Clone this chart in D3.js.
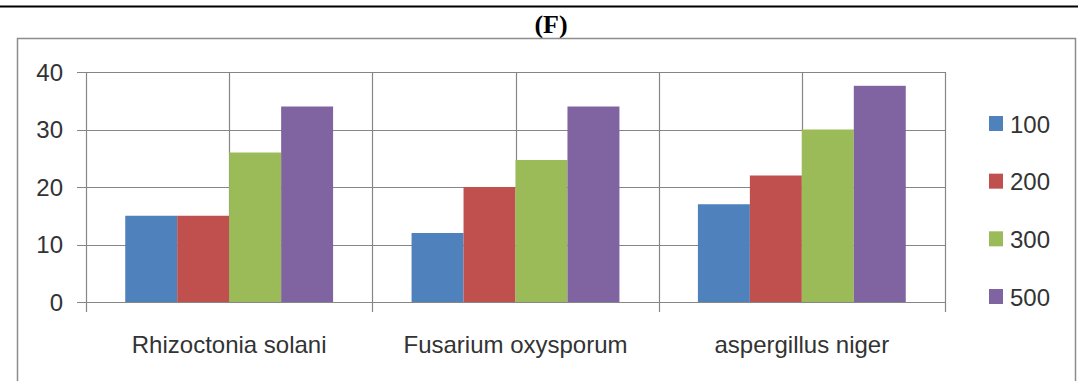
<!DOCTYPE html>
<html>
<head>
<meta charset="utf-8">
<script src="https://cdn.jsdelivr.net/npm/d3@7"></script>
<style>
  html, body { margin: 0; padding: 0; background: #fff; }
  svg { display: block; }
</style>
</head>
<body>
<svg id="chart" width="1078" height="381"></svg>
<script>
const title = "(F)";
const categories = ["Rhizoctonia solani", "Fusarium oxysporum", "aspergillus niger"];
const seriesNames = ["100", "200", "300", "500"];
const values100 = [15, 12, 17];
const values200 = [15, 20, 22];
const values300 = [26, 24.7, 30];
const values500 = [34, 34, 37.6];
const seriesValues = [values100, values200, values300, values500];
const yTicks = [0, 10, 20, 30, 40];
const colors = ["#4F81BD", "#C0504D", "#9BBB59", "#8064A2"];

const svg = d3.select("#chart");
const W = 1078, H = 381;
const plot = { left: 86, right: 945, top: 72, bottom: 302 };
const gridColor = "#868686";
const textColor = "#333333";

// top black rule
svg.append("line").attr("x1", 0).attr("x2", W).attr("y1", 6.5).attr("y2", 6.5)
  .attr("stroke", "#000").attr("stroke-width", 2);

// title
svg.append("text").attr("x", 551).attr("y", 33).attr("text-anchor", "middle")
  .attr("font-family", "Liberation Serif, Times New Roman, serif")
  .attr("font-weight", "bold").attr("font-size", 26).attr("fill", "#000")
  .text(title);

// chart frame
svg.append("path")
  .attr("d", `M17.5,${H} L17.5,38.5 L1075.5,38.5 L1075.5,${H}`)
  .attr("fill", "none").attr("stroke", "#8c8c8c").attr("stroke-width", 1.5);

const x0 = d3.scaleBand().domain(categories).range([plot.left, plot.right]).paddingInner(0).paddingOuter(0);
const x1 = d3.scaleBand().domain(seriesNames).range([0, x0.bandwidth()]).paddingInner(0).paddingOuter(0.755);
const y = d3.scaleLinear().domain([0, 40]).range([plot.bottom, plot.top]);

// horizontal gridlines
svg.append("g").selectAll("line").data(yTicks).join("line")
  .attr("x1", plot.left - 9).attr("x2", plot.right)
  .attr("y1", d => Math.round(y(d)) + 0.5).attr("y2", d => Math.round(y(d)) + 0.5)
  .attr("stroke", gridColor).attr("stroke-width", 1.2);

// vertical gridlines at category boundaries and centers
const boundaries = categories.map(c => x0(c)).concat([plot.right]);
const centers = categories.map(c => x0(c) + x0.bandwidth() / 2);
svg.append("g").selectAll("line").data(centers).join("line")
  .attr("x1", d => Math.round(d) + 0.5).attr("x2", d => Math.round(d) + 0.5)
  .attr("y1", plot.top).attr("y2", plot.bottom)
  .attr("stroke", gridColor).attr("stroke-width", 1.2);
svg.append("g").selectAll("line").data(boundaries).join("line")
  .attr("x1", d => Math.round(d) + 0.5).attr("x2", d => Math.round(d) + 0.5)
  .attr("y1", plot.top).attr("y2", plot.bottom + 10)
  .attr("stroke", gridColor).attr("stroke-width", 1.2);

// bars
const data = [];
categories.forEach((c, i) => seriesNames.forEach((s, j) => data.push({ c, s, v: seriesValues[j][i], j })));
svg.append("g").selectAll("rect").data(data).join("rect")
  .attr("x", d => x0(d.c) + x1(d.s))
  .attr("width", x1.bandwidth())
  .attr("y", d => y(d.v))
  .attr("height", d => y(0) - y(d.v))
  .attr("fill", d => colors[d.j]);

// y tick labels
svg.append("g").selectAll("text").data(yTicks).join("text")
  .attr("x", 63).attr("y", d => y(d)).attr("dy", "0.36em")
  .attr("text-anchor", "end")
  .attr("font-family", "Liberation Sans, Arial, sans-serif").attr("font-size", 24)
  .attr("fill", textColor)
  .text(d => d);

// x labels
svg.append("g").selectAll("text").data(categories).join("text")
  .attr("x", d => x0(d) + x0.bandwidth() / 2).attr("y", 353)
  .attr("text-anchor", "middle")
  .attr("font-family", "Liberation Sans, Arial, sans-serif").attr("font-size", 24)
  .attr("fill", textColor)
  .text(d => d);

// legend
const legY = d3.scalePoint().domain(seriesNames).range([124, 297]);
const leg = svg.append("g").selectAll("g").data(seriesNames).join("g")
  .attr("transform", d => `translate(989, ${legY(d)})`);
leg.append("rect").attr("x", 0).attr("y", -8).attr("width", 14).attr("height", 15)
  .attr("fill", (d, i) => colors[i]);
leg.append("text").attr("x", 21).attr("y", 0).attr("dy", "0.36em")
  .attr("font-family", "Liberation Sans, Arial, sans-serif").attr("font-size", 24)
  .attr("fill", textColor)
  .text(d => d);
</script>
</body>
</html>
